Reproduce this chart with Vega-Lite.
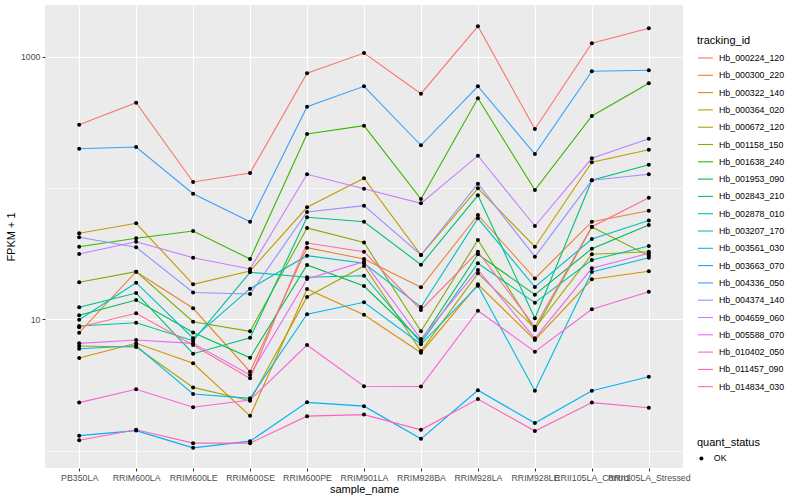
{
"$schema": "https://vega.github.io/schema/vega-lite/v6.json",
"width": 638, "height": 463,
"autosize": {"type": "none"},
"padding": {"left": 45, "top": 5, "right": 117, "bottom": 32},
"background": "white",
"config": {
  "font": "Liberation Sans",
  "view": {"fill": "#EBEBEB", "stroke": null},
  "axis": {"domain": false, "grid": true, "gridColor": "white", "gridWidth": 1.1, "tickColor": "#333333", "tickSize": 3, "tickWidth": 1, "labelColor": "#4D4D4D", "labelFontSize": 8.8, "labelPadding": 2, "titleFontSize": 11, "titleFontWeight": "normal", "titleColor": "black"},
  "legend": {"titleFontSize": 11, "titleFontWeight": "normal", "titleColor": "black", "labelFontSize": 8.8, "labelColor": "black", "padding": 0}
},
"datasets": {"d": [
{"tracking_id":"Hb_000224_120","sample_name":"PB350LA","FPKM":303.4,"quant_status":"OK"},
{"tracking_id":"Hb_000224_120","sample_name":"RRIM600LA","FPKM":446.3,"quant_status":"OK"},
{"tracking_id":"Hb_000224_120","sample_name":"RRIM600LE","FPKM":111.1,"quant_status":"OK"},
{"tracking_id":"Hb_000224_120","sample_name":"RRIM600SE","FPKM":130.1,"quant_status":"OK"},
{"tracking_id":"Hb_000224_120","sample_name":"RRIM600PE","FPKM":747.4,"quant_status":"OK"},
{"tracking_id":"Hb_000224_120","sample_name":"RRIM901LA","FPKM":1067,"quant_status":"OK"},
{"tracking_id":"Hb_000224_120","sample_name":"RRIM928BA","FPKM":522.6,"quant_status":"OK"},
{"tracking_id":"Hb_000224_120","sample_name":"RRIM928LA","FPKM":1704,"quant_status":"OK"},
{"tracking_id":"Hb_000224_120","sample_name":"RRIM928LE","FPKM":281.4,"quant_status":"OK"},
{"tracking_id":"Hb_000224_120","sample_name":"RRII105LA_Control","FPKM":1265,"quant_status":"OK"},
{"tracking_id":"Hb_000224_120","sample_name":"RRII105LA_Stressed","FPKM":1646,"quant_status":"OK"},
{"tracking_id":"Hb_000300_220","sample_name":"PB350LA","FPKM":7.90,"quant_status":"OK"},
{"tracking_id":"Hb_000300_220","sample_name":"RRIM600LA","FPKM":23.04,"quant_status":"OK"},
{"tracking_id":"Hb_000300_220","sample_name":"RRIM600LE","FPKM":12.13,"quant_status":"OK"},
{"tracking_id":"Hb_000300_220","sample_name":"RRIM600SE","FPKM":3.99,"quant_status":"OK"},
{"tracking_id":"Hb_000300_220","sample_name":"RRIM600PE","FPKM":35.11,"quant_status":"OK"},
{"tracking_id":"Hb_000300_220","sample_name":"RRIM901LA","FPKM":28.79,"quant_status":"OK"},
{"tracking_id":"Hb_000300_220","sample_name":"RRIM928BA","FPKM":17.53,"quant_status":"OK"},
{"tracking_id":"Hb_000300_220","sample_name":"RRIM928LA","FPKM":62.29,"quant_status":"OK"},
{"tracking_id":"Hb_000300_220","sample_name":"RRIM928LE","FPKM":20.45,"quant_status":"OK"},
{"tracking_id":"Hb_000300_220","sample_name":"RRII105LA_Control","FPKM":55.37,"quant_status":"OK"},
{"tracking_id":"Hb_000300_220","sample_name":"RRII105LA_Stressed","FPKM":67.16,"quant_status":"OK"},
{"tracking_id":"Hb_000322_140","sample_name":"PB350LA","FPKM":5.07,"quant_status":"OK"},
{"tracking_id":"Hb_000322_140","sample_name":"RRIM600LA","FPKM":6.56,"quant_status":"OK"},
{"tracking_id":"Hb_000322_140","sample_name":"RRIM600LE","FPKM":4.62,"quant_status":"OK"},
{"tracking_id":"Hb_000322_140","sample_name":"RRIM600SE","FPKM":1.84,"quant_status":"OK"},
{"tracking_id":"Hb_000322_140","sample_name":"RRIM600PE","FPKM":17.02,"quant_status":"OK"},
{"tracking_id":"Hb_000322_140","sample_name":"RRIM901LA","FPKM":10.84,"quant_status":"OK"},
{"tracking_id":"Hb_000322_140","sample_name":"RRIM928BA","FPKM":5.57,"quant_status":"OK"},
{"tracking_id":"Hb_000322_140","sample_name":"RRIM928LA","FPKM":18.48,"quant_status":"OK"},
{"tracking_id":"Hb_000322_140","sample_name":"RRIM928LE","FPKM":6.96,"quant_status":"OK"},
{"tracking_id":"Hb_000322_140","sample_name":"RRII105LA_Control","FPKM":20.17,"quant_status":"OK"},
{"tracking_id":"Hb_000322_140","sample_name":"RRII105LA_Stressed","FPKM":23.2,"quant_status":"OK"},
{"tracking_id":"Hb_000364_020","sample_name":"PB350LA","FPKM":45.19,"quant_status":"OK"},
{"tracking_id":"Hb_000364_020","sample_name":"RRIM600LA","FPKM":53.85,"quant_status":"OK"},
{"tracking_id":"Hb_000364_020","sample_name":"RRIM600LE","FPKM":18.48,"quant_status":"OK"},
{"tracking_id":"Hb_000364_020","sample_name":"RRIM600SE","FPKM":23.33,"quant_status":"OK"},
{"tracking_id":"Hb_000364_020","sample_name":"RRIM600PE","FPKM":71.29,"quant_status":"OK"},
{"tracking_id":"Hb_000364_020","sample_name":"RRIM901LA","FPKM":118.6,"quant_status":"OK"},
{"tracking_id":"Hb_000364_020","sample_name":"RRIM928BA","FPKM":30.88,"quant_status":"OK"},
{"tracking_id":"Hb_000364_020","sample_name":"RRIM928LA","FPKM":99.47,"quant_status":"OK"},
{"tracking_id":"Hb_000364_020","sample_name":"RRIM928LE","FPKM":35.73,"quant_status":"OK"},
{"tracking_id":"Hb_000364_020","sample_name":"RRII105LA_Control","FPKM":156.9,"quant_status":"OK"},
{"tracking_id":"Hb_000364_020","sample_name":"RRII105LA_Stressed","FPKM":195.7,"quant_status":"OK"},
{"tracking_id":"Hb_000672_120","sample_name":"PB350LA","FPKM":6.26,"quant_status":"OK"},
{"tracking_id":"Hb_000672_120","sample_name":"RRIM600LA","FPKM":6.15,"quant_status":"OK"},
{"tracking_id":"Hb_000672_120","sample_name":"RRIM600LE","FPKM":3.03,"quant_status":"OK"},
{"tracking_id":"Hb_000672_120","sample_name":"RRIM600SE","FPKM":2.40,"quant_status":"OK"},
{"tracking_id":"Hb_000672_120","sample_name":"RRIM600PE","FPKM":14.78,"quant_status":"OK"},
{"tracking_id":"Hb_000672_120","sample_name":"RRIM901LA","FPKM":25.46,"quant_status":"OK"},
{"tracking_id":"Hb_000672_120","sample_name":"RRIM928BA","FPKM":5.74,"quant_status":"OK"},
{"tracking_id":"Hb_000672_120","sample_name":"RRIM928LA","FPKM":22.4,"quant_status":"OK"},
{"tracking_id":"Hb_000672_120","sample_name":"RRIM928LE","FPKM":8.54,"quant_status":"OK"},
{"tracking_id":"Hb_000672_120","sample_name":"RRII105LA_Control","FPKM":31.26,"quant_status":"OK"},
{"tracking_id":"Hb_000672_120","sample_name":"RRII105LA_Stressed","FPKM":32.73,"quant_status":"OK"},
{"tracking_id":"Hb_001158_150","sample_name":"PB350LA","FPKM":19.13,"quant_status":"OK"},
{"tracking_id":"Hb_001158_150","sample_name":"RRIM600LA","FPKM":23.04,"quant_status":"OK"},
{"tracking_id":"Hb_001158_150","sample_name":"RRIM600LE","FPKM":9.59,"quant_status":"OK"},
{"tracking_id":"Hb_001158_150","sample_name":"RRIM600SE","FPKM":8.10,"quant_status":"OK"},
{"tracking_id":"Hb_001158_150","sample_name":"RRIM600PE","FPKM":49.6,"quant_status":"OK"},
{"tracking_id":"Hb_001158_150","sample_name":"RRIM901LA","FPKM":38.45,"quant_status":"OK"},
{"tracking_id":"Hb_001158_150","sample_name":"RRIM928BA","FPKM":8.10,"quant_status":"OK"},
{"tracking_id":"Hb_001158_150","sample_name":"RRIM928LA","FPKM":40.18,"quant_status":"OK"},
{"tracking_id":"Hb_001158_150","sample_name":"RRIM928LE","FPKM":8.29,"quant_status":"OK"},
{"tracking_id":"Hb_001158_150","sample_name":"RRII105LA_Control","FPKM":50.47,"quant_status":"OK"},
{"tracking_id":"Hb_001158_150","sample_name":"RRII105LA_Stressed","FPKM":30.51,"quant_status":"OK"},
{"tracking_id":"Hb_001638_240","sample_name":"PB350LA","FPKM":35.73,"quant_status":"OK"},
{"tracking_id":"Hb_001638_240","sample_name":"RRIM600LA","FPKM":41.4,"quant_status":"OK"},
{"tracking_id":"Hb_001638_240","sample_name":"RRIM600LE","FPKM":47.04,"quant_status":"OK"},
{"tracking_id":"Hb_001638_240","sample_name":"RRIM600SE","FPKM":28.79,"quant_status":"OK"},
{"tracking_id":"Hb_001638_240","sample_name":"RRIM600PE","FPKM":257.8,"quant_status":"OK"},
{"tracking_id":"Hb_001638_240","sample_name":"RRIM901LA","FPKM":298.2,"quant_status":"OK"},
{"tracking_id":"Hb_001638_240","sample_name":"RRIM928BA","FPKM":82.46,"quant_status":"OK"},
{"tracking_id":"Hb_001638_240","sample_name":"RRIM928LA","FPKM":482.1,"quant_status":"OK"},
{"tracking_id":"Hb_001638_240","sample_name":"RRIM928LE","FPKM":96.56,"quant_status":"OK"},
{"tracking_id":"Hb_001638_240","sample_name":"RRII105LA_Control","FPKM":353.5,"quant_status":"OK"},
{"tracking_id":"Hb_001638_240","sample_name":"RRII105LA_Stressed","FPKM":627.2,"quant_status":"OK"},
{"tracking_id":"Hb_001953_090","sample_name":"PB350LA","FPKM":10.73,"quant_status":"OK"},
{"tracking_id":"Hb_001953_090","sample_name":"RRIM600LA","FPKM":14.03,"quant_status":"OK"},
{"tracking_id":"Hb_001953_090","sample_name":"RRIM600LE","FPKM":7.93,"quant_status":"OK"},
{"tracking_id":"Hb_001953_090","sample_name":"RRIM600SE","FPKM":5.10,"quant_status":"OK"},
{"tracking_id":"Hb_001953_090","sample_name":"RRIM600PE","FPKM":25.92,"quant_status":"OK"},
{"tracking_id":"Hb_001953_090","sample_name":"RRIM901LA","FPKM":17.93,"quant_status":"OK"},
{"tracking_id":"Hb_001953_090","sample_name":"RRIM928BA","FPKM":6.87,"quant_status":"OK"},
{"tracking_id":"Hb_001953_090","sample_name":"RRIM928LA","FPKM":31.26,"quant_status":"OK"},
{"tracking_id":"Hb_001953_090","sample_name":"RRIM928LE","FPKM":15.4,"quant_status":"OK"},
{"tracking_id":"Hb_001953_090","sample_name":"RRII105LA_Control","FPKM":34.5,"quant_status":"OK"},
{"tracking_id":"Hb_001953_090","sample_name":"RRII105LA_Stressed","FPKM":52.26,"quant_status":"OK"},
{"tracking_id":"Hb_002843_210","sample_name":"PB350LA","FPKM":12.34,"quant_status":"OK"},
{"tracking_id":"Hb_002843_210","sample_name":"RRIM600LA","FPKM":15.86,"quant_status":"OK"},
{"tracking_id":"Hb_002843_210","sample_name":"RRIM600LE","FPKM":5.47,"quant_status":"OK"},
{"tracking_id":"Hb_002843_210","sample_name":"RRIM600SE","FPKM":7.24,"quant_status":"OK"},
{"tracking_id":"Hb_002843_210","sample_name":"RRIM600PE","FPKM":59.82,"quant_status":"OK"},
{"tracking_id":"Hb_002843_210","sample_name":"RRIM901LA","FPKM":55.37,"quant_status":"OK"},
{"tracking_id":"Hb_002843_210","sample_name":"RRIM928BA","FPKM":26.05,"quant_status":"OK"},
{"tracking_id":"Hb_002843_210","sample_name":"RRIM928LA","FPKM":87.99,"quant_status":"OK"},
{"tracking_id":"Hb_002843_210","sample_name":"RRIM928LE","FPKM":10.18,"quant_status":"OK"},
{"tracking_id":"Hb_002843_210","sample_name":"RRII105LA_Control","FPKM":114.4,"quant_status":"OK"},
{"tracking_id":"Hb_002843_210","sample_name":"RRII105LA_Stressed","FPKM":150.5,"quant_status":"OK"},
{"tracking_id":"Hb_002878_010","sample_name":"PB350LA","FPKM":8.89,"quant_status":"OK"},
{"tracking_id":"Hb_002878_010","sample_name":"RRIM600LA","FPKM":9.42,"quant_status":"OK"},
{"tracking_id":"Hb_002878_010","sample_name":"RRIM600LE","FPKM":6.87,"quant_status":"OK"},
{"tracking_id":"Hb_002878_010","sample_name":"RRIM600SE","FPKM":22.8,"quant_status":"OK"},
{"tracking_id":"Hb_002878_010","sample_name":"RRIM600PE","FPKM":20.88,"quant_status":"OK"},
{"tracking_id":"Hb_002878_010","sample_name":"RRIM901LA","FPKM":21.48,"quant_status":"OK"},
{"tracking_id":"Hb_002878_010","sample_name":"RRIM928BA","FPKM":6.63,"quant_status":"OK"},
{"tracking_id":"Hb_002878_010","sample_name":"RRIM928LA","FPKM":26.7,"quant_status":"OK"},
{"tracking_id":"Hb_002878_010","sample_name":"RRIM928LE","FPKM":13.38,"quant_status":"OK"},
{"tracking_id":"Hb_002878_010","sample_name":"RRII105LA_Control","FPKM":28.29,"quant_status":"OK"},
{"tracking_id":"Hb_002878_010","sample_name":"RRII105LA_Stressed","FPKM":36.17,"quant_status":"OK"},
{"tracking_id":"Hb_003207_170","sample_name":"PB350LA","FPKM":9.93,"quant_status":"OK"},
{"tracking_id":"Hb_003207_170","sample_name":"RRIM600LA","FPKM":19.0,"quant_status":"OK"},
{"tracking_id":"Hb_003207_170","sample_name":"RRIM600LE","FPKM":7.18,"quant_status":"OK"},
{"tracking_id":"Hb_003207_170","sample_name":"RRIM600SE","FPKM":17.11,"quant_status":"OK"},
{"tracking_id":"Hb_003207_170","sample_name":"RRIM600PE","FPKM":30.51,"quant_status":"OK"},
{"tracking_id":"Hb_003207_170","sample_name":"RRIM901LA","FPKM":26.7,"quant_status":"OK"},
{"tracking_id":"Hb_003207_170","sample_name":"RRIM928BA","FPKM":12.41,"quant_status":"OK"},
{"tracking_id":"Hb_003207_170","sample_name":"RRIM928LA","FPKM":58.78,"quant_status":"OK"},
{"tracking_id":"Hb_003207_170","sample_name":"RRIM928LE","FPKM":17.62,"quant_status":"OK"},
{"tracking_id":"Hb_003207_170","sample_name":"RRII105LA_Control","FPKM":40.9,"quant_status":"OK"},
{"tracking_id":"Hb_003207_170","sample_name":"RRII105LA_Stressed","FPKM":56.55,"quant_status":"OK"},
{"tracking_id":"Hb_003561_030","sample_name":"PB350LA","FPKM":5.97,"quant_status":"OK"},
{"tracking_id":"Hb_003561_030","sample_name":"RRIM600LA","FPKM":6.29,"quant_status":"OK"},
{"tracking_id":"Hb_003561_030","sample_name":"RRIM600LE","FPKM":2.70,"quant_status":"OK"},
{"tracking_id":"Hb_003561_030","sample_name":"RRIM600SE","FPKM":2.50,"quant_status":"OK"},
{"tracking_id":"Hb_003561_030","sample_name":"RRIM600PE","FPKM":10.92,"quant_status":"OK"},
{"tracking_id":"Hb_003561_030","sample_name":"RRIM901LA","FPKM":13.48,"quant_status":"OK"},
{"tracking_id":"Hb_003561_030","sample_name":"RRIM928BA","FPKM":6.45,"quant_status":"OK"},
{"tracking_id":"Hb_003561_030","sample_name":"RRIM928LA","FPKM":18.03,"quant_status":"OK"},
{"tracking_id":"Hb_003561_030","sample_name":"RRIM928LE","FPKM":2.86,"quant_status":"OK"},
{"tracking_id":"Hb_003561_030","sample_name":"RRII105LA_Control","FPKM":22.92,"quant_status":"OK"},
{"tracking_id":"Hb_003561_030","sample_name":"RRII105LA_Stressed","FPKM":29.46,"quant_status":"OK"},
{"tracking_id":"Hb_003663_070","sample_name":"PB350LA","FPKM":1.30,"quant_status":"OK"},
{"tracking_id":"Hb_003663_070","sample_name":"RRIM600LA","FPKM":1.42,"quant_status":"OK"},
{"tracking_id":"Hb_003663_070","sample_name":"RRIM600LE","FPKM":1.05,"quant_status":"OK"},
{"tracking_id":"Hb_003663_070","sample_name":"RRIM600SE","FPKM":1.18,"quant_status":"OK"},
{"tracking_id":"Hb_003663_070","sample_name":"RRIM600PE","FPKM":2.33,"quant_status":"OK"},
{"tracking_id":"Hb_003663_070","sample_name":"RRIM901LA","FPKM":2.18,"quant_status":"OK"},
{"tracking_id":"Hb_003663_070","sample_name":"RRIM928BA","FPKM":1.23,"quant_status":"OK"},
{"tracking_id":"Hb_003663_070","sample_name":"RRIM928LA","FPKM":2.88,"quant_status":"OK"},
{"tracking_id":"Hb_003663_070","sample_name":"RRIM928LE","FPKM":1.62,"quant_status":"OK"},
{"tracking_id":"Hb_003663_070","sample_name":"RRII105LA_Control","FPKM":2.86,"quant_status":"OK"},
{"tracking_id":"Hb_003663_070","sample_name":"RRII105LA_Stressed","FPKM":3.65,"quant_status":"OK"},
{"tracking_id":"Hb_004336_050","sample_name":"PB350LA","FPKM":199.2,"quant_status":"OK"},
{"tracking_id":"Hb_004336_050","sample_name":"RRIM600LA","FPKM":205.3,"quant_status":"OK"},
{"tracking_id":"Hb_004336_050","sample_name":"RRIM600LE","FPKM":90.5,"quant_status":"OK"},
{"tracking_id":"Hb_004336_050","sample_name":"RRIM600SE","FPKM":55.37,"quant_status":"OK"},
{"tracking_id":"Hb_004336_050","sample_name":"RRIM600PE","FPKM":416.0,"quant_status":"OK"},
{"tracking_id":"Hb_004336_050","sample_name":"RRIM901LA","FPKM":595.1,"quant_status":"OK"},
{"tracking_id":"Hb_004336_050","sample_name":"RRIM928BA","FPKM":211.5,"quant_status":"OK"},
{"tracking_id":"Hb_004336_050","sample_name":"RRIM928LA","FPKM":595.1,"quant_status":"OK"},
{"tracking_id":"Hb_004336_050","sample_name":"RRIM928LE","FPKM":181.5,"quant_status":"OK"},
{"tracking_id":"Hb_004336_050","sample_name":"RRII105LA_Control","FPKM":774.1,"quant_status":"OK"},
{"tracking_id":"Hb_004336_050","sample_name":"RRII105LA_Stressed","FPKM":787.8,"quant_status":"OK"},
{"tracking_id":"Hb_004374_140","sample_name":"PB350LA","FPKM":42.12,"quant_status":"OK"},
{"tracking_id":"Hb_004374_140","sample_name":"RRIM600LA","FPKM":35.35,"quant_status":"OK"},
{"tracking_id":"Hb_004374_140","sample_name":"RRIM600LE","FPKM":16.0,"quant_status":"OK"},
{"tracking_id":"Hb_004374_140","sample_name":"RRIM600SE","FPKM":15.58,"quant_status":"OK"},
{"tracking_id":"Hb_004374_140","sample_name":"RRIM600PE","FPKM":65.65,"quant_status":"OK"},
{"tracking_id":"Hb_004374_140","sample_name":"RRIM901LA","FPKM":73.32,"quant_status":"OK"},
{"tracking_id":"Hb_004374_140","sample_name":"RRIM928BA","FPKM":30.88,"quant_status":"OK"},
{"tracking_id":"Hb_004374_140","sample_name":"RRIM928LA","FPKM":107.8,"quant_status":"OK"},
{"tracking_id":"Hb_004374_140","sample_name":"RRIM928LE","FPKM":29.98,"quant_status":"OK"},
{"tracking_id":"Hb_004374_140","sample_name":"RRII105LA_Control","FPKM":114.4,"quant_status":"OK"},
{"tracking_id":"Hb_004374_140","sample_name":"RRII105LA_Stressed","FPKM":127.2,"quant_status":"OK"},
{"tracking_id":"Hb_004659_060","sample_name":"PB350LA","FPKM":31.43,"quant_status":"OK"},
{"tracking_id":"Hb_004659_060","sample_name":"RRIM600LA","FPKM":38.99,"quant_status":"OK"},
{"tracking_id":"Hb_004659_060","sample_name":"RRIM600LE","FPKM":29.46,"quant_status":"OK"},
{"tracking_id":"Hb_004659_060","sample_name":"RRIM600SE","FPKM":24.16,"quant_status":"OK"},
{"tracking_id":"Hb_004659_060","sample_name":"RRIM600PE","FPKM":127.2,"quant_status":"OK"},
{"tracking_id":"Hb_004659_060","sample_name":"RRIM901LA","FPKM":98.79,"quant_status":"OK"},
{"tracking_id":"Hb_004659_060","sample_name":"RRIM928BA","FPKM":76.44,"quant_status":"OK"},
{"tracking_id":"Hb_004659_060","sample_name":"RRIM928LA","FPKM":176.2,"quant_status":"OK"},
{"tracking_id":"Hb_004659_060","sample_name":"RRIM928LE","FPKM":51.35,"quant_status":"OK"},
{"tracking_id":"Hb_004659_060","sample_name":"RRII105LA_Control","FPKM":168.4,"quant_status":"OK"},
{"tracking_id":"Hb_004659_060","sample_name":"RRII105LA_Stressed","FPKM":237.5,"quant_status":"OK"},
{"tracking_id":"Hb_005588_070","sample_name":"PB350LA","FPKM":6.56,"quant_status":"OK"},
{"tracking_id":"Hb_005588_070","sample_name":"RRIM600LA","FPKM":6.96,"quant_status":"OK"},
{"tracking_id":"Hb_005588_070","sample_name":"RRIM600LE","FPKM":6.56,"quant_status":"OK"},
{"tracking_id":"Hb_005588_070","sample_name":"RRIM600SE","FPKM":3.77,"quant_status":"OK"},
{"tracking_id":"Hb_005588_070","sample_name":"RRIM600PE","FPKM":20.27,"quant_status":"OK"},
{"tracking_id":"Hb_005588_070","sample_name":"RRIM901LA","FPKM":27.46,"quant_status":"OK"},
{"tracking_id":"Hb_005588_070","sample_name":"RRIM928BA","FPKM":7.08,"quant_status":"OK"},
{"tracking_id":"Hb_005588_070","sample_name":"RRIM928LA","FPKM":23.75,"quant_status":"OK"},
{"tracking_id":"Hb_005588_070","sample_name":"RRIM928LE","FPKM":7.17,"quant_status":"OK"},
{"tracking_id":"Hb_005588_070","sample_name":"RRII105LA_Control","FPKM":24.46,"quant_status":"OK"},
{"tracking_id":"Hb_005588_070","sample_name":"RRII105LA_Stressed","FPKM":31.82,"quant_status":"OK"},
{"tracking_id":"Hb_010402_050","sample_name":"PB350LA","FPKM":2.32,"quant_status":"OK"},
{"tracking_id":"Hb_010402_050","sample_name":"RRIM600LA","FPKM":2.93,"quant_status":"OK"},
{"tracking_id":"Hb_010402_050","sample_name":"RRIM600LE","FPKM":2.14,"quant_status":"OK"},
{"tracking_id":"Hb_010402_050","sample_name":"RRIM600SE","FPKM":2.43,"quant_status":"OK"},
{"tracking_id":"Hb_010402_050","sample_name":"RRIM600PE","FPKM":6.37,"quant_status":"OK"},
{"tracking_id":"Hb_010402_050","sample_name":"RRIM901LA","FPKM":3.09,"quant_status":"OK"},
{"tracking_id":"Hb_010402_050","sample_name":"RRIM928BA","FPKM":3.08,"quant_status":"OK"},
{"tracking_id":"Hb_010402_050","sample_name":"RRIM928LA","FPKM":11.63,"quant_status":"OK"},
{"tracking_id":"Hb_010402_050","sample_name":"RRIM928LE","FPKM":5.67,"quant_status":"OK"},
{"tracking_id":"Hb_010402_050","sample_name":"RRII105LA_Control","FPKM":11.92,"quant_status":"OK"},
{"tracking_id":"Hb_010402_050","sample_name":"RRII105LA_Stressed","FPKM":16.23,"quant_status":"OK"},
{"tracking_id":"Hb_011457_090","sample_name":"PB350LA","FPKM":1.20,"quant_status":"OK"},
{"tracking_id":"Hb_011457_090","sample_name":"RRIM600LA","FPKM":1.44,"quant_status":"OK"},
{"tracking_id":"Hb_011457_090","sample_name":"RRIM600LE","FPKM":1.14,"quant_status":"OK"},
{"tracking_id":"Hb_011457_090","sample_name":"RRIM600SE","FPKM":1.14,"quant_status":"OK"},
{"tracking_id":"Hb_011457_090","sample_name":"RRIM600PE","FPKM":1.83,"quant_status":"OK"},
{"tracking_id":"Hb_011457_090","sample_name":"RRIM901LA","FPKM":1.88,"quant_status":"OK"},
{"tracking_id":"Hb_011457_090","sample_name":"RRIM928BA","FPKM":1.44,"quant_status":"OK"},
{"tracking_id":"Hb_011457_090","sample_name":"RRIM928LA","FPKM":2.47,"quant_status":"OK"},
{"tracking_id":"Hb_011457_090","sample_name":"RRIM928LE","FPKM":1.41,"quant_status":"OK"},
{"tracking_id":"Hb_011457_090","sample_name":"RRII105LA_Control","FPKM":2.32,"quant_status":"OK"},
{"tracking_id":"Hb_011457_090","sample_name":"RRII105LA_Stressed","FPKM":2.12,"quant_status":"OK"},
{"tracking_id":"Hb_014834_030","sample_name":"PB350LA","FPKM":8.69,"quant_status":"OK"},
{"tracking_id":"Hb_014834_030","sample_name":"RRIM600LA","FPKM":11.11,"quant_status":"OK"},
{"tracking_id":"Hb_014834_030","sample_name":"RRIM600LE","FPKM":6.37,"quant_status":"OK"},
{"tracking_id":"Hb_014834_030","sample_name":"RRIM600SE","FPKM":3.55,"quant_status":"OK"},
{"tracking_id":"Hb_014834_030","sample_name":"RRIM600PE","FPKM":38.11,"quant_status":"OK"},
{"tracking_id":"Hb_014834_030","sample_name":"RRIM901LA","FPKM":32.73,"quant_status":"OK"},
{"tracking_id":"Hb_014834_030","sample_name":"RRIM928BA","FPKM":11.77,"quant_status":"OK"},
{"tracking_id":"Hb_014834_030","sample_name":"RRIM928LA","FPKM":32.73,"quant_status":"OK"},
{"tracking_id":"Hb_014834_030","sample_name":"RRIM928LE","FPKM":8.78,"quant_status":"OK"},
{"tracking_id":"Hb_014834_030","sample_name":"RRII105LA_Control","FPKM":50.73,"quant_status":"OK"},
{"tracking_id":"Hb_014834_030","sample_name":"RRII105LA_Stressed","FPKM":84.36,"quant_status":"OK"}
]},
"data": {"name": "d"},
"encoding": {
  "x": {"field": "sample_name", "type": "ordinal",
        "sort": ["PB350LA","RRIM600LA","RRIM600LE","RRIM600SE","RRIM600PE","RRIM901LA","RRIM928BA","RRIM928LA","RRIM928LE","RRII105LA_Control","RRII105LA_Stressed"],
        "scale": {"type": "point", "padding": 0.6},
        "axis": {"labelAngle": 0, "labelOverlap": false, "labelBound": false, "title": "sample_name", "titlePadding": 2}},
  "y": {"field": "FPKM", "type": "quantitative",
        "scale": {"type": "log", "domain": [0.737, 2476], "nice": false, "zero": false},
        "axis": {"values": [1, 10, 100, 1000], "format": "d", "title": "FPKM + 1", "titlePadding": 4,
                 "labelExpr": "datum.value == 10 || datum.value == 1000 ? datum.label : ''",
                 "tickOpacity": {"condition": {"test": "datum.value == 10 || datum.value == 1000", "value": 1}, "value": 0},
                 "gridWidth": {"condition": {"test": "datum.value == 10 || datum.value == 1000", "value": 1.1}, "value": 0.55}}}
},
"layer": [
  {"mark": {"type": "line", "strokeWidth": 1.1},
   "encoding": {
     "color": {"field": "tracking_id", "type": "nominal",
       "scale": {"domain": ["Hb_000224_120","Hb_000300_220","Hb_000322_140","Hb_000364_020","Hb_000672_120","Hb_001158_150","Hb_001638_240","Hb_001953_090","Hb_002843_210","Hb_002878_010","Hb_003207_170","Hb_003561_030","Hb_003663_070","Hb_004336_050","Hb_004374_140","Hb_004659_060","Hb_005588_070","Hb_010402_050","Hb_011457_090","Hb_014834_030"],
                 "range": ["#F8766D","#EA8331","#D89000","#C09B00","#A3A500","#7CAE00","#39B600","#00BB4E","#00BF7D","#00C1A3","#00BFC4","#00BAE0","#00B0F6","#35A2FF","#9590FF","#C77CFF","#E76BF3","#FA62DB","#FF62BC","#FF6C91"]},
       "legend": {"orient": "none", "legendX": 652, "legendY": 29.5, "symbolType": "stroke", "symbolSize": 225, "symbolStrokeWidth": 1.1, "rowPadding": 3.3, "labelOffset": 5, "titlePadding": 4}},
     "order": {"value": null}
   }},
  {"mark": {"type": "point", "filled": true, "color": "black", "opacity": 1, "size": 16},
   "encoding": {
     "shape": {"field": "quant_status", "type": "nominal", "scale": {"range": ["circle"]},
       "legend": {"orient": "none", "legendX": 652, "legendY": 432, "symbolSize": 16, "symbolFillColor": "black", "symbolStrokeColor": "black", "labelOffset": 8, "titlePadding": 6}}
   }}
]
}
